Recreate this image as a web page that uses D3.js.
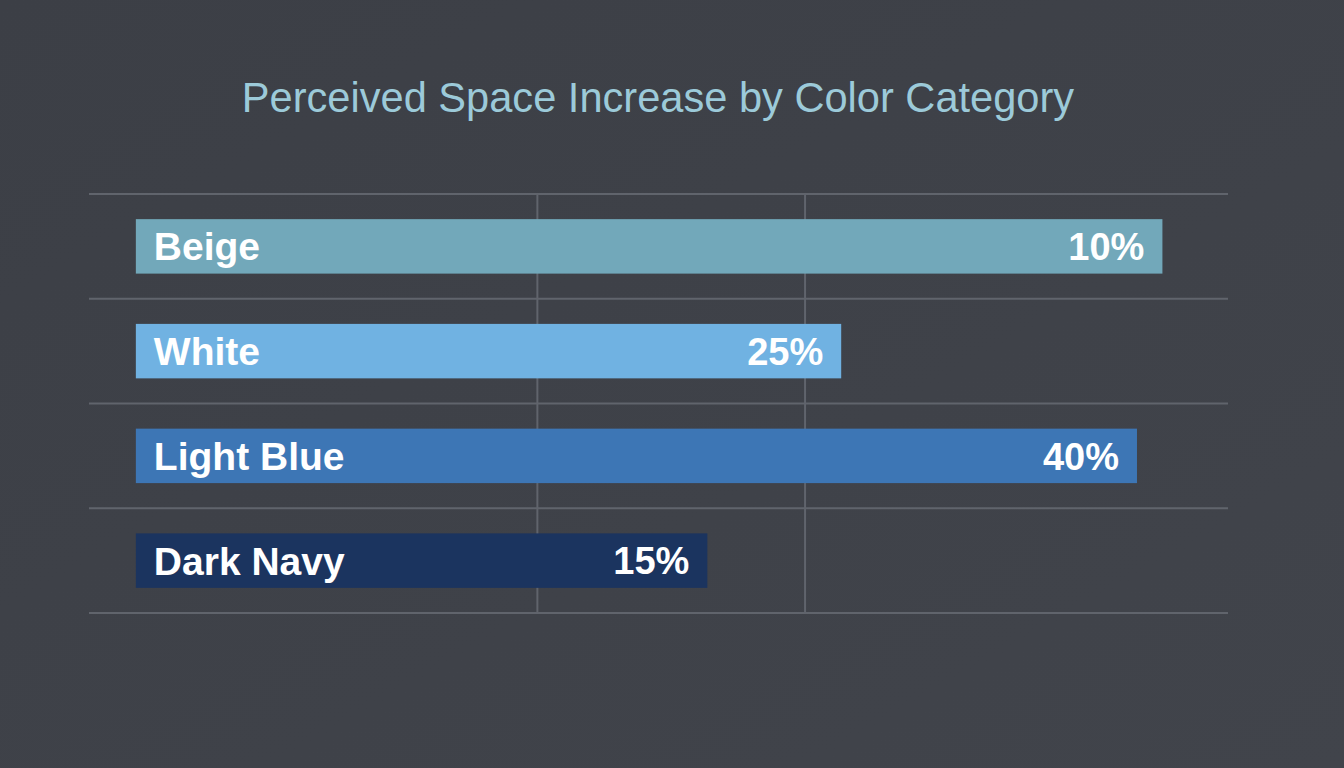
<!DOCTYPE html>
<html>
<head>
<meta charset="utf-8">
<script src="https://cdn.jsdelivr.net/npm/d3@7"></script>
<style>
  html, body { margin: 0; padding: 0; background: #3d4047; }
  svg { display: block; }
</style>
</head>
<body>
<div class="bar-chart-container"></div>
<script>
// Data
const categories = ['Beige', 'White', 'Light Blue', 'Dark Navy'];
const valueLabels = [10, 25, 40, 15];            // printed percentages
const barLengths = [76.7, 52.7, 74.8, 42.7];     // drawn bar lengths (axis units)
const gridTicks = [30, 50];
const barColors = ['#72a8ba', '#70b2e2', '#3d76b5', '#1b345f'];

const data = categories.map((c, i) => ({
    category: c,
    label: valueLabels[i] + '%',
    length: barLengths[i],
    color: barColors[i]
}));

// Margin convention
const W = 1344, H = 768;
const margin = {top: 194, right: 116, bottom: 155, left: 89};
const width = W - margin.left - margin.right;
const height = H - margin.top - margin.bottom;

// Scales
const xScale = d3.scaleLinear([-3.5, 81.6], [0, width]);

const yScale = d3.scaleBand()
    .domain(categories)
    .range([0, height])
    .paddingInner(0.48)
    .paddingOuter(0.24);

const svg = d3.select('.bar-chart-container')
    .append('svg')
    .attr('width', W)
    .attr('height', H);

// Background
const defs = svg.append('defs');
const bg = defs.append('linearGradient')
    .attr('id', 'bg')
    .attr('x1', 0).attr('y1', 0).attr('x2', 1).attr('y2', 1);
bg.append('stop').attr('offset', 0).attr('stop-color', '#3c3f46');
bg.append('stop').attr('offset', 1).attr('stop-color', '#41444b');
svg.append('rect')
    .attr('width', W).attr('height', H)
    .attr('fill', 'url(#bg)');

// Title
svg.append('text')
    .attr('x', 658)
    .attr('y', 112)
    .attr('text-anchor', 'middle')
    .style('font-family', '"Liberation Sans", Arial, sans-serif')
    .style('font-size', '41.6px')
    .style('fill', '#9ccad9')
    .text('Perceived Space Increase by Color Category');

const g = svg.append('g')
    .attr('transform', `translate(${margin.left}, ${margin.top})`);

// Horizontal grid lines (band boundaries)
const bounds = d3.range(categories.length + 1).map(i => i * height / categories.length);
g.append('g')
    .selectAll('line')
    .data(bounds)
    .join('line')
    .attr('x1', 0)
    .attr('x2', width)
    .attr('y1', d => d)
    .attr('y2', d => d)
    .attr('stroke', '#60646c')
    .attr('stroke-width', 2);

// Vertical grid lines
g.append('g')
    .selectAll('line')
    .data(gridTicks)
    .join('line')
    .attr('x1', d => xScale(d))
    .attr('x2', d => xScale(d))
    .attr('y1', 0)
    .attr('y2', height)
    .attr('stroke', '#60646c')
    .attr('stroke-width', 2);

// Bars
g.selectAll('.bar')
    .data(data)
    .join('rect')
    .attr('class', 'bar')
    .attr('x', xScale(0))
    .attr('y', d => yScale(d.category))
    .attr('width', d => xScale(d.length) - xScale(0))
    .attr('height', yScale.bandwidth())
    .attr('fill', d => d.color);

// Category labels
g.selectAll('.cat')
    .data(data)
    .join('text')
    .attr('class', 'cat')
    .attr('x', xScale(0) + 18)
    .attr('y', d => yScale(d.category) + yScale.bandwidth() / 2)
    .attr('dy', '0.36em')
    .style('font-family', '"Liberation Sans", Arial, sans-serif')
    .style('font-weight', 'bold')
    .style('font-size', '39px')
    .style('fill', '#ffffff')
    .text(d => d.category);

// Value labels
g.selectAll('.val')
    .data(data)
    .join('text')
    .attr('class', 'val')
    .attr('x', d => xScale(d.length) - 18)
    .attr('y', d => yScale(d.category) + yScale.bandwidth() / 2)
    .attr('dy', '0.36em')
    .attr('text-anchor', 'end')
    .style('font-family', '"Liberation Sans", Arial, sans-serif')
    .style('font-weight', 'bold')
    .style('font-size', '38px')
    .style('fill', '#ffffff')
    .text(d => d.label);
</script>
</body>
</html>
